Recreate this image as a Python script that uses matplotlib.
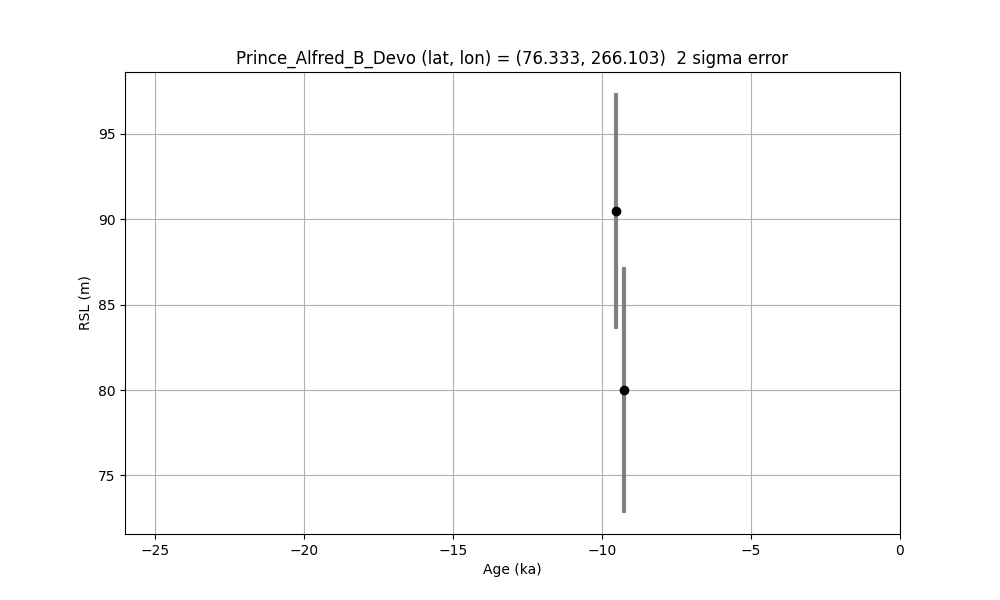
import matplotlib
matplotlib.use("Agg")
import matplotlib.pyplot as plt

age_ka = [-9.53, -9.27]
rsl_m = [90.5, 80.0]
rsl_err = [6.9, 7.2]

fig, ax = plt.subplots(figsize=(10, 6), dpi=100)
ax.errorbar(age_ka, rsl_m, yerr=rsl_err, fmt='o', color='black',
            ecolor='gray', elinewidth=3, capsize=0, zorder=3)
ax.set_xlim(-26, 0)
ax.grid(True)
ax.set_axisbelow(True)
ax.set_xlabel('Age (ka)')
ax.set_ylabel('RSL (m)')
ax.set_title('Prince_Alfred_B_Devo (lat, lon) = (76.333, 266.103)  2 sigma error')
fig.savefig('out.png', dpi=100)
